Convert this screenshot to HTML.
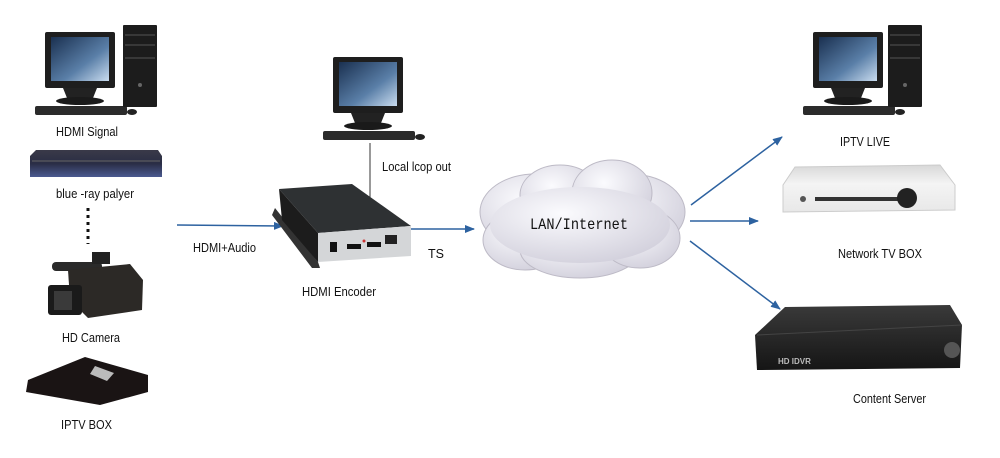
<!DOCTYPE html>
<html><head><meta charset="utf-8"><style>
html,body{margin:0;padding:0;background:#fff;}
svg{display:block;}
text{font-family:"Liberation Sans",sans-serif;font-size:12.5px;fill:#111;}
</style></head><body>
<svg width="1000" height="458" viewBox="0 0 1000 458" xmlns="http://www.w3.org/2000/svg">
<defs>
<linearGradient id="scr" x1="0" y1="0" x2="1" y2="1">
<stop offset="0" stop-color="#1a3050"/><stop offset="0.6" stop-color="#5a7fa8"/><stop offset="1" stop-color="#c9dcef"/></linearGradient>
<linearGradient id="br" x1="0" y1="0" x2="0" y2="1">
<stop offset="0" stop-color="#3a3a48"/><stop offset="0.5" stop-color="#2a2d45"/><stop offset="1" stop-color="#4b5a90"/></linearGradient>
<radialGradient id="cl" cx="0.4" cy="0.35" r="0.7">
<stop offset="0" stop-color="#fbfbfe"/><stop offset="1" stop-color="#d2d0dc"/></radialGradient>
<linearGradient id="silver" x1="0" y1="0" x2="0" y2="1">
<stop offset="0" stop-color="#d8d8d8"/><stop offset="0.4" stop-color="#f4f4f4"/><stop offset="1" stop-color="#e8e8e8"/></linearGradient>
<linearGradient id="dvr" x1="0" y1="0" x2="0" y2="1">
<stop offset="0" stop-color="#3a3a3a"/><stop offset="1" stop-color="#151515"/></linearGradient>
<marker id="ah" markerWidth="10" markerHeight="8" refX="9" refY="4" orient="auto" markerUnits="userSpaceOnUse">
<path d="M0,0 L10,4 L0,8 Z" fill="#2d62a0"/></marker>
<symbol id="mon" overflow="visible">
<rect x="0" y="0" width="70" height="56" rx="2" fill="#1e1e1e"/>
<rect x="6" y="5" width="58" height="44" fill="url(#scr)"/>
<path d="M18,56 L52,56 L48,66 L22,66 Z" fill="#222"/>
<ellipse cx="35" cy="69" rx="24" ry="4" fill="#1a1a1a"/>
<rect x="-10" y="74" width="92" height="9" rx="2" fill="#2b2b2b"/>
<ellipse cx="87" cy="80" rx="5" ry="3" fill="#222"/>
</symbol>
<symbol id="tower" overflow="visible">
<rect x="0" y="0" width="34" height="82" rx="1" fill="#1c1c1c"/>
<line x1="2" y1="10" x2="32" y2="10" stroke="#555"/>
<line x1="2" y1="20" x2="32" y2="20" stroke="#555"/>
<line x1="2" y1="33" x2="32" y2="33" stroke="#555"/>
<circle cx="17" cy="60" r="2" fill="#666"/>
</symbol>
</defs>

<use href="#mon" x="45" y="32"/>
<use href="#tower" x="123" y="25"/>
<text x="56" y="136" textLength="62" lengthAdjust="spacingAndGlyphs">HDMI Signal</text>

<path d="M36,150 L158,150 L162,156 L162,177 L30,177 L30,156 Z" fill="url(#br)"/>
<line x1="32" y1="161" x2="160" y2="161" stroke="#666"/>
<text x="56" y="198" textLength="78" lengthAdjust="spacingAndGlyphs">blue -ray palyer</text>
<line x1="88" y1="208" x2="88" y2="244" stroke="#111" stroke-width="3" stroke-dasharray="3,4"/>

<rect x="52" y="262" width="50" height="9" rx="4" fill="#2a2a2a"/>
<rect x="92" y="252" width="18" height="12" fill="#222"/>
<path d="M68,270 L130,264 L143,280 L142,310 L88,318 L70,300 Z" fill="#2c2926"/>
<rect x="48" y="285" width="34" height="30" rx="3" fill="#1a1a1a"/>
<rect x="54" y="291" width="18" height="19" fill="#3a3a3a"/>
<text x="62" y="342" textLength="58" lengthAdjust="spacingAndGlyphs">HD Camera</text>

<path d="M28,380 L85,357 L148,375 L148,392 L100,405 L26,392 Z" fill="#1a1414"/>
<path d="M95,366 L114,373 L107,381 L90,374 Z" fill="#bbb"/>
<text x="61" y="429" textLength="51" lengthAdjust="spacingAndGlyphs">IPTV BOX</text>

<line x1="177" y1="225" x2="283" y2="226" stroke="#2d62a0" stroke-width="1.5" marker-end="url(#ah)"/>
<text x="193" y="252" textLength="63" lengthAdjust="spacingAndGlyphs">HDMI+Audio</text>

<use href="#mon" x="333" y="57"/>
<line x1="370" y1="143" x2="370" y2="250" stroke="#333" stroke-width="1"/>
<text x="382" y="171" textLength="69" lengthAdjust="spacingAndGlyphs">Local lcop out</text>

<path d="M275,208 L318,262 L320,268 L312,268 L272,215 Z" fill="#333"/>
<path d="M279,189 L352,184 L411,226 L318,233 Z" fill="#2e3133"/>
<path d="M279,189 L318,233 L318,262 L282,220 Z" fill="#1c1c1c"/>
<path d="M318,233 L411,226 L411,256 L318,262 Z" fill="#d4d6d8"/>
<rect x="330" y="242" width="7" height="10" fill="#111"/>
<rect x="347" y="244" width="14" height="5" fill="#111"/>
<rect x="367" y="242" width="14" height="5" fill="#111"/>
<rect x="385" y="235" width="12" height="9" fill="#222"/>
<circle cx="364" cy="241" r="1.5" fill="#c33"/>
<text x="302" y="296" textLength="74" lengthAdjust="spacingAndGlyphs">HDMI Encoder</text>

<line x1="411" y1="229" x2="474" y2="229" stroke="#2d62a0" stroke-width="1.5" marker-end="url(#ah)"/>
<text x="428" y="258">TS</text>

<g fill="url(#cl)" stroke="#bdbac6" stroke-width="1">
<ellipse cx="535" cy="212" rx="55" ry="38"/>
<ellipse cx="630" cy="212" rx="55" ry="38"/>
<ellipse cx="525" cy="240" rx="42" ry="30"/>
<ellipse cx="580" cy="250" rx="60" ry="28"/>
<ellipse cx="640" cy="238" rx="40" ry="30"/>
<ellipse cx="560" cy="195" rx="40" ry="30"/>
<ellipse cx="612" cy="193" rx="40" ry="33"/>
</g>
<ellipse cx="580" cy="225" rx="90" ry="38" fill="url(#cl)"/>
<text x="530" y="229" textLength="98" lengthAdjust="spacingAndGlyphs" style="font-family:'Liberation Mono',monospace;font-size:16px;">LAN/Internet</text>

<line x1="691" y1="205" x2="782" y2="137" stroke="#2d62a0" stroke-width="1.5" marker-end="url(#ah)"/>
<line x1="690" y1="221" x2="758" y2="221" stroke="#2d62a0" stroke-width="1.5" marker-end="url(#ah)"/>
<line x1="690" y1="241" x2="780" y2="309" stroke="#2d62a0" stroke-width="1.5" marker-end="url(#ah)"/>

<use href="#mon" x="813" y="32"/>
<use href="#tower" x="888" y="25"/>
<text x="840" y="146" textLength="50" lengthAdjust="spacingAndGlyphs">IPTV LIVE</text>

<path d="M795,167 L940,165 L955,185 L955,210 L783,212 L783,185 Z" fill="url(#silver)" stroke="#ccc"/>
<rect x="815" y="197" width="90" height="4" fill="#333"/>
<circle cx="907" cy="198" r="10" fill="#222"/>
<circle cx="803" cy="199" r="3" fill="#555"/>
<text x="838" y="258" textLength="84" lengthAdjust="spacingAndGlyphs">Network TV BOX</text>

<path d="M785,307 L950,305 L962,325 L960,368 L757,370 L755,335 Z" fill="url(#dvr)"/>
<path d="M757,335 L962,325" stroke="#444"/>
<circle cx="952" cy="350" r="8" fill="#555"/>
<text x="778" y="364" style="font-size:8px;fill:#bbb;font-weight:bold;">HD IDVR</text>
<text x="853" y="403" textLength="73" lengthAdjust="spacingAndGlyphs">Content Server</text>
</svg>
</body></html>
